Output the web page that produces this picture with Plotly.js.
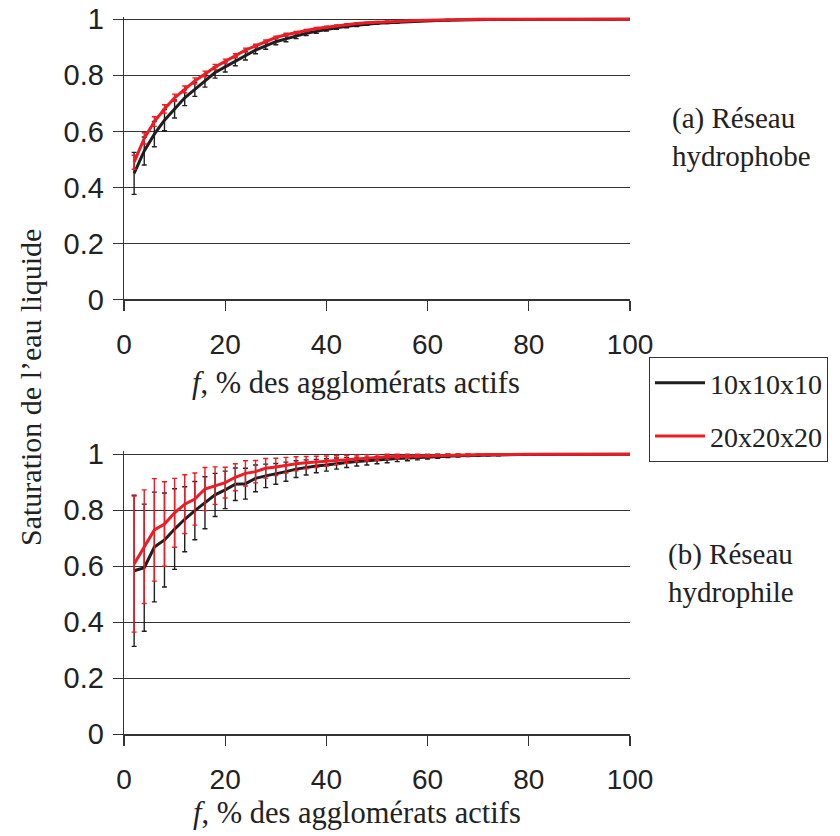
<!DOCTYPE html>
<html>
<head>
<meta charset="utf-8">
<script src="https://cdn.plot.ly/plotly-3.0.1.min.js"></script>
<style>html,body{margin:0;padding:0;background:#fff}#chart{width:840px;height:836px}</style>
</head>
<body>
<div id="chart"></div>
<script>
// f, % des agglomérats actifs
const fValues = [2,4,6,8,10,12,14,16,18,20,22,24,26,28,30,32,34,36,38,40,42,44,46,48,50,
                 52,54,56,58,60,62,64,66,68,70,72,74,76,78,80,82,84,86,88,90,92,94,96,98,100];

// (a) Réseau hydrophobe
const hydrophobe10 = [0.45,0.53,0.59,0.64,0.68,0.72,0.75,0.78,0.81,0.83,0.85,0.87,0.89,0.905,0.92,0.93,0.94,0.95,0.957,0.964,
                      0.97,0.975,0.979,0.983,0.986,0.988,0.99,0.992,0.994,0.995,0.996,0.997,0.998,0.998,0.999,0.999,0.999,0.999,1,1,
                      1,1,1,1,1,1,1,1,1,1];
const hydrophobe10Err = [0.075,0.05,0.045,0.038,0.032,0.028,0.025,0.022,0.02,0.018,0.016,0.015,0.013,0.012,0.011,0.01,0.009,0.008,0.007,0.006,
                         0.006,0.005,0.005,0.004,0.004,0.003,0.003,0.003,0.002,0.002,0.002,0.002,0.001,0.001,0.001,0.001,0.001,0.001,0.001,0.001,
                         0.001,0.001,0.001,0.001,0.001,0.001,0.001,0.001,0.001,0.001];
const hydrophobe20 = [0.49,0.575,0.635,0.68,0.72,0.75,0.78,0.805,0.83,0.85,0.87,0.89,0.905,0.92,0.935,0.945,0.953,0.96,0.967,0.972,
                      0.977,0.981,0.985,0.988,0.99,0.992,0.994,0.995,0.996,0.997,0.998,0.999,0.999,0.999,1,1,1,1,1,1,
                      1,1,1,1,1,1,1,1,1,1];
const hydrophobe20Err = [0.025,0.02,0.017,0.015,0.013,0.012,0.011,0.01,0.009,0.008,0.007,0.007,0.006,0.006,0.005,0.005,0.004,0.004,0.004,0.003,
                         0.003,0.003,0.002,0.002,0.002,0.002,0.002,0.001,0.001,0.001,0.001,0.001,0.001,0.001,0.001,0.001,0.001,0.001,0.001,0.001,
                         0.001,0.001,0.001,0.001,0.001,0.001,0.001,0.001,0.001,0.001];

// (b) Réseau hydrophile
const hydrophile10 = [0.584,0.595,0.669,0.694,0.733,0.768,0.799,0.827,0.855,0.873,0.893,0.895,0.914,0.923,0.93,0.938,0.947,0.953,0.958,0.962,
                      0.967,0.971,0.974,0.976,0.979,0.982,0.985,0.987,0.989,0.991,0.993,0.994,0.995,0.996,0.997,0.998,0.998,0.999,0.999,0.999,
                      0.999,1,1,1,1,1,1,1,1,1];
const hydrophile10Err = [0.27,0.227,0.196,0.168,0.144,0.116,0.104,0.093,0.077,0.067,0.058,0.055,0.048,0.042,0.037,0.034,0.03,0.027,0.024,0.022,
                         0.02,0.018,0.016,0.014,0.013,0.012,0.011,0.01,0.009,0.008,0.007,0.006,0.005,0.004,0.004,0.003,0.003,0.002,0.002,0.002,
                         0.001,0.001,0.001,0.001,0.001,0.001,0.001,0.001,0.001,0.001];
const hydrophile20 = [0.608,0.67,0.73,0.751,0.791,0.822,0.84,0.876,0.888,0.899,0.918,0.932,0.938,0.95,0.955,0.961,0.966,0.97,0.973,0.976,
                      0.979,0.982,0.985,0.987,0.989,0.991,0.992,0.993,0.994,0.995,0.996,0.997,0.998,0.998,0.999,0.999,0.999,1,1,1,
                      1,1,1,1,1,1,1,1,1,1];
const hydrophile20Err = [0.243,0.203,0.183,0.151,0.123,0.105,0.093,0.077,0.067,0.055,0.048,0.045,0.04,0.035,0.031,0.028,0.025,0.022,0.02,0.018,
                         0.016,0.014,0.012,0.011,0.01,0.009,0.008,0.007,0.006,0.005,0.004,0.004,0.003,0.003,0.002,0.002,0.002,0.001,0.001,0.001,
                         0.001,0.001,0.001,0.001,0.001,0.001,0.001,0.001,0.001,0.001];

const seriesNames = ['10x10x10', '20x20x20'];
const xTicks = [0,20,40,60,80,100];
const yTicks = [0,0.2,0.4,0.6,0.8,1];
const xTitle = '<i>f</i>, % des agglomérats actifs';
const yTitle = 'Saturation de l\u2019eau liquide';
const panelA = '(a) Réseau<br>hydrophobe';
const panelB = '(b) Réseau<br>hydrophile';

const BLACK = '#1e1e1e';
const RED = '#ec1c24';
const GRID = '#333333';
const SANS = 'Liberation Sans';
const SERIF = 'Liberation Serif';

function trace(y, err, color, name, xa, ya, show, group) {
  return {
    x: fValues, y: y, type: 'scatter', mode: 'lines', name: name,
    xaxis: xa, yaxis: ya, showlegend: show, legendgroup: group,
    line: {color: color, width: 3},
    error_y: {type: 'data', array: err, visible: true, color: color, thickness: 1.4, width: 2.5}
  };
}

const data = [
  trace(hydrophobe10, hydrophobe10Err, BLACK, seriesNames[0], 'x', 'y', true, 'g1'),
  trace(hydrophobe20, hydrophobe20Err, RED, seriesNames[1], 'x', 'y', true, 'g2'),
  trace(hydrophile10, hydrophile10Err, BLACK, seriesNames[0], 'x2', 'y2', false, 'g1'),
  trace(hydrophile20, hydrophile20Err, RED, seriesNames[1], 'x2', 'y2', false, 'g2')
];

function xAxis(anchor) {
  return {
    anchor: anchor, domain: [0.14762, 0.75], range: [0, 100],
    tickvals: xTicks, ticks: 'outside', ticklen: 10, tickwidth: 1.3, tickcolor: GRID,
    showline: true, linecolor: GRID, linewidth: 1.3, showgrid: false, zeroline: false,
    tickfont: {family: SANS, size: 28, color: '#222'}, ticklabelstandoff: 10
  };
}
function yAxis(anchor, domain) {
  return {
    anchor: anchor, domain: domain, range: [0, 1.01],
    tickvals: yTicks, ticks: 'outside', ticklen: 10, tickwidth: 1.3, tickcolor: GRID,
    showline: true, linecolor: GRID, linewidth: 1.3,
    showgrid: true, gridcolor: GRID, gridwidth: 1.3, zeroline: false,
    tickfont: {family: SANS, size: 29, color: '#222'}, ticklabelstandoff: 3
  };
}

const layout = {
  width: 840, height: 836,
  margin: {l: 0, r: 0, t: 0, b: 0},
  paper_bgcolor: '#fff', plot_bgcolor: '#fff',
  showlegend: true,
  xaxis: xAxis('y'),
  yaxis: yAxis('x', [0.64175, 0.98026]),
  xaxis2: xAxis('y2'),
  yaxis2: yAxis('x2', [0.12165, 0.45993]),
  legend: {
    x: 649/840, xanchor: 'left', y: 1 - 357/836, yanchor: 'top',
    bordercolor: GRID, borderwidth: 1, bgcolor: '#fff',
    font: {family: SERIF, size: 28, color: '#222'},
    traceorder: 'grouped', tracegroupgap: 14, itemwidth: 50
  },
  annotations: [
    {text: xTitle, xref: 'paper', yref: 'paper', x: 356/840, y: 1 - 383/836, showarrow: false,
     xanchor: 'center', yanchor: 'middle', font: {family: SERIF, size: 30.5, color: '#222'}},
    {text: xTitle, xref: 'paper', yref: 'paper', x: 357/840, y: 1 - 813/836, showarrow: false,
     xanchor: 'center', yanchor: 'middle', font: {family: SERIF, size: 30.5, color: '#222'}},
    {text: yTitle, xref: 'paper', yref: 'paper', x: 30/840, y: 1 - 388/836, showarrow: false,
     textangle: -90, xanchor: 'center', yanchor: 'middle', font: {family: SERIF, size: 30, color: '#222'}},
    {text: panelA, xref: 'paper', yref: 'paper', x: 670/840, y: 1 - 137/836, showarrow: false,
     xanchor: 'left', yanchor: 'middle', align: 'left', font: {family: SERIF, size: 29, color: '#222'}},
    {text: panelB, xref: 'paper', yref: 'paper', x: 666/840, y: 1 - 573/836, showarrow: false,
     xanchor: 'left', yanchor: 'middle', align: 'left', font: {family: SERIF, size: 29, color: '#222'}}
  ]
};

Plotly.newPlot('chart', data, layout, {displayModeBar: false, staticPlot: true});
</script>
</body>
</html>
